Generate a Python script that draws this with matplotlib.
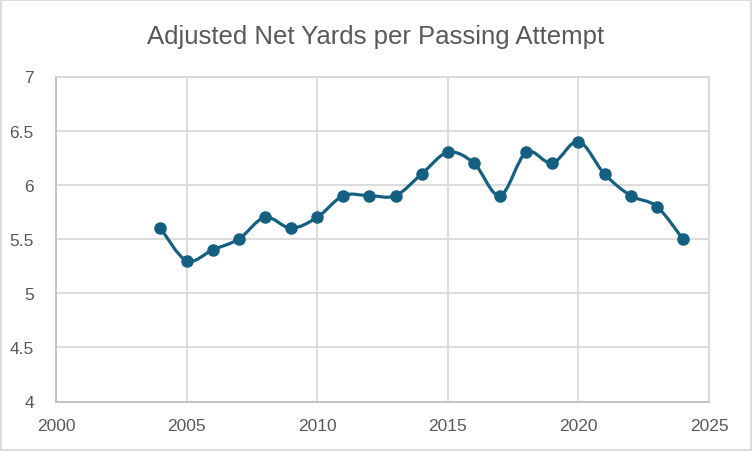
import matplotlib.pyplot as plt
import numpy as np
from matplotlib.path import Path
from matplotlib.patches import PathPatch

years = [2004, 2005, 2006, 2007, 2008, 2009, 2010, 2011, 2012, 2013, 2014,
         2015, 2016, 2017, 2018, 2019, 2020, 2021, 2022, 2023, 2024]
anya = [5.6, 5.3, 5.4, 5.5, 5.7, 5.6, 5.7, 5.9, 5.9, 5.9, 6.1,
        6.3, 6.2, 5.9, 6.3, 6.2, 6.4, 6.1, 5.9, 5.8, 5.5]
x_ticks = [2000, 2005, 2010, 2015, 2020, 2025]
y_ticks = [4, 4.5, 5, 5.5, 6, 6.5, 7]
title = 'Adjusted Net Yards per Passing Attempt'

line_color = '#156082'
text_color = '#595959'
grid_color = '#d9d9d9'

plt.rcParams['font.family'] = ['Liberation Sans', 'DejaVu Sans']


def smooth_path(xs, ys):
    # excel style smoothed line: bezier segments with catmull-rom control points
    pts = np.column_stack([xs, ys]).astype(float)
    ext = np.vstack([pts[0], pts, pts[-1]])
    verts = [pts[0]]
    codes = [Path.MOVETO]
    for i in range(1, len(ext) - 2):
        p0, p1, p2, p3 = ext[i - 1], ext[i], ext[i + 1], ext[i + 2]
        c1 = p1 + (p2 - p0) / 6.0
        c2 = p2 - (p3 - p1) / 6.0
        verts += [c1, c2, p2]
        codes += [Path.CURVE4] * 3
    return Path(verts, codes)


fig = plt.figure(figsize=(7.52, 4.52), dpi=100)
fig.patches.append(plt.Rectangle((0.0015, 0.002), 0.997, 0.995, transform=fig.transFigure,
                                 fill=False, edgecolor=grid_color, linewidth=1.3))
ax = fig.add_axes([56 / 752, 1 - 402.5 / 452, 653 / 752, 325 / 452])

ax.add_patch(PathPatch(smooth_path(years, anya), fill=False, edgecolor=line_color,
                       linewidth=2.3, capstyle='round', joinstyle='round', zorder=3))
ax.plot(years, anya, linestyle='none', marker='o', markersize=8,
        color=line_color, zorder=4)

ax.set_xlim(2000, 2025)
ax.set_ylim(4, 7)
ax.set_xticks(x_ticks)
ax.set_yticks(y_ticks)
ax.set_yticklabels([f'{v:g}' for v in y_ticks])
ax.grid(True, color=grid_color, linewidth=1.3)
ax.set_axisbelow(True)
for side in ['top', 'right']:
    ax.spines[side].set_color(grid_color)
    ax.spines[side].set_linewidth(1.3)
for side in ['left', 'bottom']:
    ax.spines[side].set_color('#bfbfbf')
    ax.spines[side].set_linewidth(1.3)
ax.tick_params(length=0, labelsize=12.5, labelcolor=text_color)
ax.tick_params(axis='y', pad=16)
ax.tick_params(axis='x', pad=12)

fig.text(0.5, 1 - 37 / 452, title, ha='center', va='center', fontsize=18.5, color=text_color)

plt.savefig('out.png', dpi=100)
